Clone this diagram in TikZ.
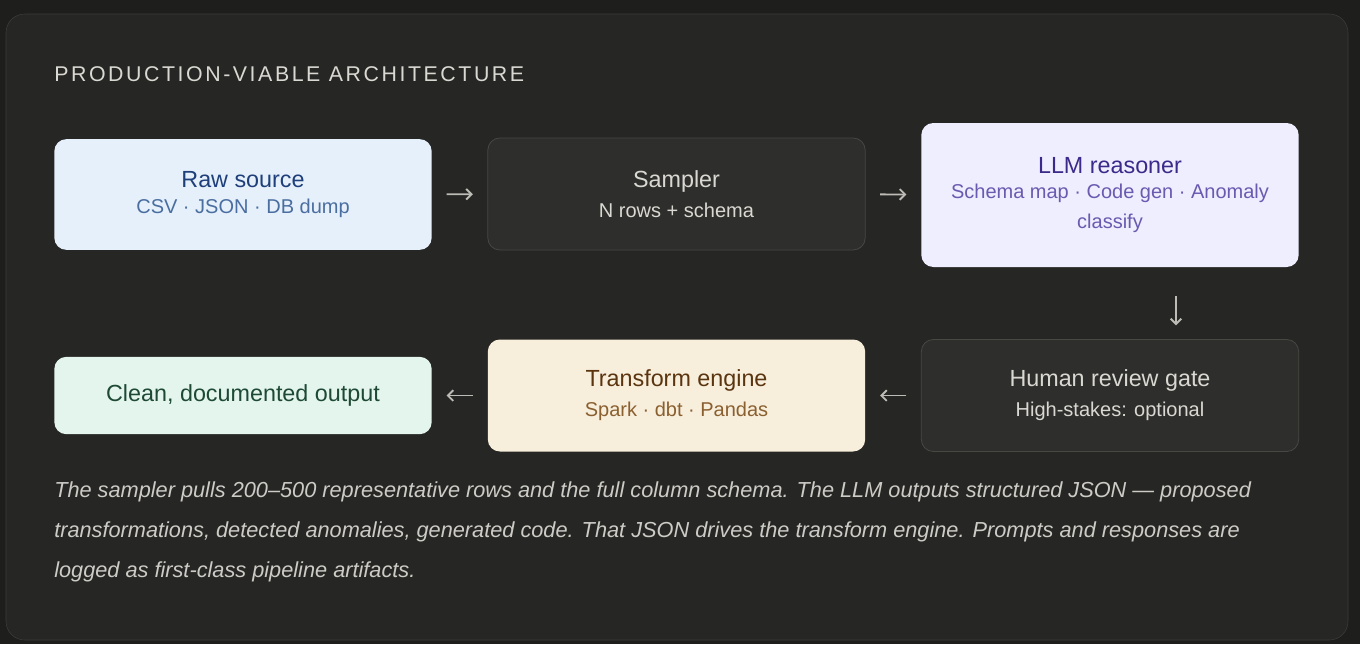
\documentclass[tikz,border=0pt]{standalone}
\usepackage{fontspec}
\setmainfont{Liberation Sans}
\definecolor{pagebg}{HTML}{1E1E1D}
\definecolor{panelbg}{HTML}{262624}
\definecolor{panelline}{HTML}{3C3C3A}
\definecolor{darkbox}{HTML}{2E2E2C}
\definecolor{darkline}{HTML}{474744}
\definecolor{lighttext}{HTML}{DAD8D2}
\definecolor{arrowgray}{HTML}{BDBBB5}
\definecolor{rawfill}{HTML}{E6F0FB}
\definecolor{rawtitle}{HTML}{1E3F7A}
\definecolor{rawsub}{HTML}{4A6EA0}
\definecolor{llmfill}{HTML}{EEEEFF}
\definecolor{llmtitle}{HTML}{3B2A8A}
\definecolor{llmsub}{HTML}{6A5AB0}
\definecolor{cleanfill}{HTML}{E4F5EE}
\definecolor{cleantitle}{HTML}{1E4A35}
\definecolor{tffill}{HTML}{F8EEDC}
\definecolor{tftitle}{HTML}{5A3510}
\definecolor{tfsub}{HTML}{8A6030}
\newcommand{\stagetitle}{\fontsize{17.5}{20}\selectfont}
\newcommand{\stagesub}{\fontsize{15}{18}\selectfont}
\tikzset{
  stagebox/.style={rounded corners=9pt, minimum width=283pt, align=center, inner sep=0pt},
  darkstage/.style={stagebox, fill=darkbox, draw=darkline, line width=0.6pt, text=lighttext},
  flow/.style={-{Straight Barb[length=4pt,width=8pt]}, draw=arrowgray, line width=1.4pt}
}
\usetikzlibrary{arrows.meta}
\begin{document}
\begin{tikzpicture}[x=0.75pt, y=-0.75pt]
	%Background
		\fill [pagebg] (0, 0) rectangle (1360, 644);
		\useasboundingbox (0, 0) rectangle (1360, 644);
		\draw [fill=panelbg, draw=panelline, rounded corners=14pt] (6, 14) rectangle (1348, 640);
	%Title
		\node [anchor=west, inner sep=0pt, text=lighttext, font=\fontsize{16}{18}\selectfont] (title) at (54, 74) {\addfontfeature{LetterSpace=12}PRODUCTION-VIABLE ARCHITECTURE};
	%Top line
		%Raw source
		\node [stagebox, fill=rawfill, minimum height=83pt] (raw) at (243, 194.5)
			{{\stagetitle\color{rawtitle}Raw source}\\[7pt]{\stagesub\color{rawsub}CSV · JSON · DB dump}};
		%Sampler
		\node [darkstage, minimum height=84pt] (sampler) at (676.5, 194)
			{{\stagetitle Sampler}\\[7pt]{\stagesub N rows + schema}};
		%LLM reasoner
		\node [stagebox, fill=llmfill, minimum height=108pt] (llm) at (1110, 195)
			{{\stagetitle\color{llmtitle}LLM reasoner}\\[7pt]{\stagesub\color{llmsub}Schema map · Code gen · Anomaly}\\[7pt]{\stagesub\color{llmsub}classify}};
	%Bottom line
		%Human review gate
		\node [darkstage, minimum height=84pt] (review) at (1110, 395.5)
			{{\stagetitle Human review gate}\\[7pt]{\stagesub High-stakes: optional}};
		%Transform engine
		\node [stagebox, fill=tffill, minimum height=84pt] (transform) at (676.5, 395.5)
			{{\stagetitle\color{tftitle}Transform engine}\\[7pt]{\stagesub\color{tfsub}Spark · dbt · Pandas}};
		%Clean output
		\node [stagebox, fill=cleanfill, minimum height=58pt] (clean) at (243, 395.5)
			{{\stagetitle\color{cleantitle}Clean, documented output}};
	%Arrows
		\coordinate (downtop) at (1176, 267);
		\coordinate (downend) at (1176, 340);
		\draw [flow, shorten <=11pt, shorten >=11pt] (raw) -- (sampler);
		\draw [flow, shorten <=11pt, shorten >=11pt] (sampler) -- (raw.east -| llm.west);
		\draw [flow, shorten <=22pt, shorten >=11pt] (downtop) -- (downend);
		\draw [flow, shorten <=11pt, shorten >=11pt] (review) -- (transform);
		\draw [flow, shorten <=11pt, shorten >=11pt] (transform) -- (clean);
	%Caption
		\node [anchor=north west, inner sep=0pt, align=left, text=lighttext!85!gray, font=\itshape\fontsize{16.3}{30}\selectfont] (caption) at (54, 481)
			{The sampler pulls 200–500 representative rows and the full column schema. The LLM outputs structured JSON — proposed\\
			transformations, detected anomalies, generated code. That JSON drives the transform engine. Prompts and responses are\\
			logged as first-class pipeline artifacts.};
\end{tikzpicture}
\end{document}
